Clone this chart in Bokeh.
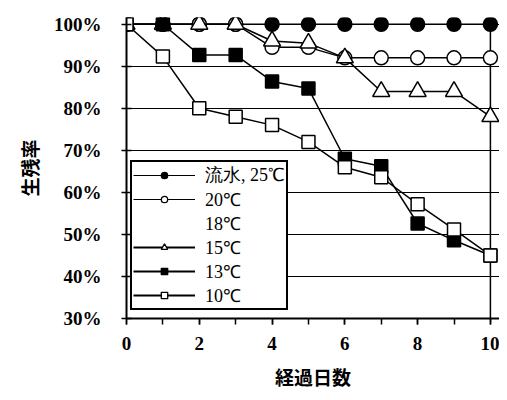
from bokeh.plotting import figure
from bokeh.models import Range1d, FixedTicker, Legend, LegendItem, NumeralTickFormatter
from bokeh.embed import file_html
from bokeh.resources import INLINE

nan = float("nan")
days = [0, 1, 2, 3, 4, 5, 6, 7, 8, 9, 10]
s25 = [100, 100, 100, 100, 100, 100, 100, 100, 100, 100, 100]
s20 = [100, 100, 100, 100, 94.5, 94.5, 92, 92, 92, 92, 92]
s15 = [100, 100, 100, 100, 96, 95.5, 92, 84, 84, 84, 78]
s13 = [100, 100, 92.7, 92.7, 86.4, 84.7, 68, 66.2, 52.6, 48.6, 45]
s10 = [100, 92.3, 80, 78, 76, 72, 66, 63.6, 57.2, 51.2, 45]
labels = ["流水, 25℃", "20℃", "18℃", "15℃", "13℃", "10℃"]
x_ticks = [0, 2, 4, 6, 8, 10]
y_ticks = [30, 40, 50, 60, 70, 80, 90, 100]

p = figure(width=499, height=392, output_backend="svg", toolbar_location=None,
           x_range=Range1d(0, 10.25), y_range=Range1d(30, 101.6),
           min_border_left=126, min_border_right=0, min_border_top=17, min_border_bottom=70)
p.outline_line_color = None
p.background_fill_color = "white"
p.border_fill_color = "white"

# right border line
p.segment(x0=[10], y0=[30], x1=[10], y1=[100], line_color="black", line_width=1.5)

lw = 1.5
p.line(days, s25, line_color="black", line_width=lw)
p.scatter(days, s25, marker="circle", size=14, fill_color="black", line_color="black", line_width=1.5)
p.line(days, s20, line_color="black", line_width=lw)
p.scatter(days, s20, marker="circle", size=14, fill_color="white", line_color="black", line_width=1.5)
p.line(days, s15, line_color="black", line_width=lw)
p.scatter(days, s15, marker="triangle", size=17, fill_color="white", line_color="black", line_width=1.5)
p.line(days, s13, line_color="black", line_width=lw)
p.scatter(days, s13, marker="square", size=13, fill_color="black", line_color="black", line_width=1.5)
p.line(days, s10, line_color="black", line_width=lw)
p.scatter(days, s10, marker="square", size=13, fill_color="white", line_color="black", line_width=1.5)

# legend key glyphs (smaller markers, as in the reference key); NaN data -> nothing drawn in plot
def key(marker, fill, size, width=1.2, visible=True):
    l = p.line([nan, nan], [nan, nan], line_color="black", line_width=width,
               line_alpha=1 if visible else 0)
    rs = [l]
    if marker:
        rs.append(p.scatter([nan], [nan], marker=marker, size=size, fill_color=fill,
                            line_color="black", line_width=1.3))
    return rs

items = [
    LegendItem(label=labels[0], renderers=key("circle", "black", 10)),
    LegendItem(label=labels[1], renderers=key("circle", "white", 10)),
    LegendItem(label=labels[2], renderers=key(None, None, 0, visible=False)),
    LegendItem(label=labels[3], renderers=key("triangle", "white", 12, 2)),
    LegendItem(label=labels[4], renderers=key("square", "black", 10, 2)),
    LegendItem(label=labels[5], renderers=key("square", "white", 10, 2)),
]
legend = Legend(items=items, location=(4, 8))
legend.border_line_color = "black"
legend.border_line_alpha = 1
legend.border_line_width = 2
legend.background_fill_color = "white"
legend.background_fill_alpha = 1
legend.label_text_font = "Liberation Serif"
legend.label_text_font_size = "18px"
legend.label_text_line_height = 1.0
legend.label_text_color = "black"
legend.glyph_width = 62
legend.glyph_height = 16
legend.label_height = 16
legend.spacing = 0
legend.padding = 1
legend.margin = 0
legend.label_standoff = 10
p.add_layout(legend, "center")

p.xgrid.grid_line_color = None
p.ygrid.grid_line_color = "black"
p.ygrid.grid_line_width = 1
p.ygrid.ticker = FixedTicker(ticks=y_ticks)

p.xaxis.ticker = FixedTicker(ticks=x_ticks, minor_ticks=days)
p.yaxis.ticker = FixedTicker(ticks=y_ticks)
p.yaxis.formatter = NumeralTickFormatter(format="0")
p.yaxis.major_label_overrides = {v: f"{v}%" for v in y_ticks}

for ax in (p.xaxis, p.yaxis):
    ax.axis_line_color = "black"
    ax.axis_line_width = 2
    ax.major_tick_line_color = "black"
    ax.major_tick_line_width = 1.5
    ax.minor_tick_line_color = "black"
    ax.minor_tick_line_width = 1.5
    ax.major_label_text_font = "Liberation Serif"
    ax.major_label_text_font_style = "bold"
    ax.major_label_text_font_size = "19px"
    ax.major_label_text_color = "black"
    ax.axis_label_text_font = "Noto Sans CJK JP"
    ax.axis_label_text_font_style = "bold"
    ax.axis_label_text_font_size = "19px"
    ax.axis_label_text_color = "black"

p.xaxis.major_tick_in = 0
p.xaxis.major_tick_out = 6
p.xaxis.minor_tick_in = 0
p.xaxis.minor_tick_out = 6
p.xaxis.major_label_standoff = 12
p.xaxis.axis_label = "経過日数"
p.xaxis.axis_label_standoff = 10

p.yaxis.major_tick_in = 5
p.yaxis.major_tick_out = 5
p.yaxis.minor_tick_line_color = None
p.yaxis.major_label_standoff = 20
p.yaxis.axis_label = "生残率"
p.yaxis.axis_label_standoff = 8

open("out.html", "w").write(file_html(p, INLINE))
